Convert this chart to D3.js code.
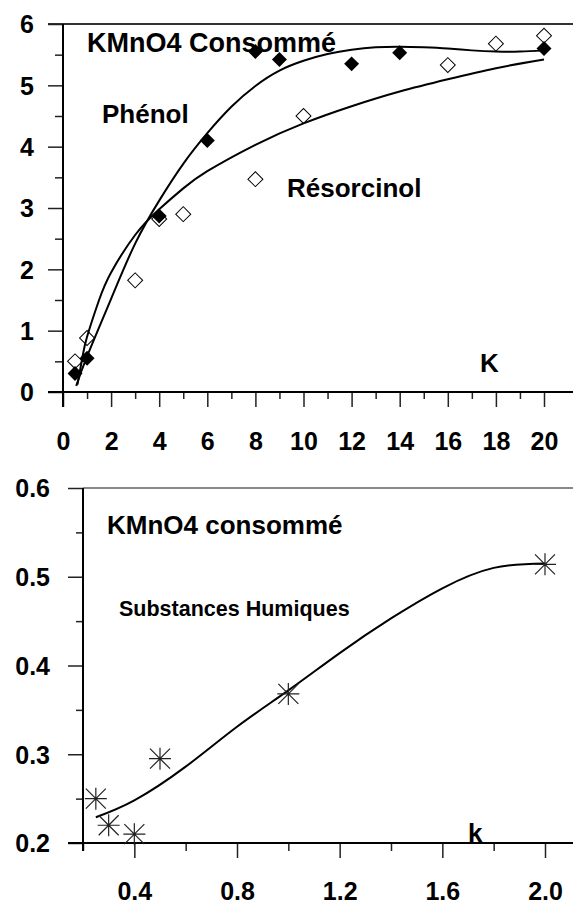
<!DOCTYPE html>
<html>
<head>
<meta charset="utf-8">
<script src="https://cdn.jsdelivr.net/npm/d3@7"></script>
<style>
  body { margin: 0; background: #fff; }
  svg { display: block; font-family: "Liberation Sans", Arial, sans-serif; font-weight: bold; }
</style>
</head>
<body>
<div id="chart"></div>
<script>
// top chart : KMnO4 consommé vs K
var phenolK = [0.5, 1, 4, 6, 8, 9, 12, 14, 20];
var phenolV = [0.3, 0.55, 2.87, 4.1, 5.55, 5.42, 5.35, 5.53, 5.6];
var resorK = [0.5, 1, 3, 4, 5, 8, 10, 16, 18, 20];
var resorV = [0.5, 0.88, 1.82, 2.82, 2.9, 3.47, 4.5, 5.33, 5.68, 5.81];
// trend curves
var phenolFitK = [0.55, 1, 2, 3, 4, 5, 6, 7, 8, 9, 10, 11, 12, 13, 14, 15, 16, 17, 18, 19, 20];
var phenolFitV = [0.1, 0.58, 1.52, 2.42, 3.12, 3.72, 4.22, 4.65, 4.99, 5.24, 5.4, 5.51, 5.58, 5.62, 5.63, 5.62, 5.6, 5.57, 5.55, 5.55, 5.57];
var resorFitK = [0.6, 0.8, 1, 1.5, 2, 3, 4, 5, 6, 8, 10, 12, 14, 16, 18, 20];
var resorFitV = [0.12, 0.55, 0.9, 1.5, 1.95, 2.56, 2.98, 3.32, 3.6, 4.03, 4.38, 4.66, 4.9, 5.1, 5.28, 5.42];
var topXTicks = d3.range(0, 21, 2);
var topYTicks = [0, 1, 2, 3, 4, 5, 6];

// bottom chart : substances humiques
var humK = [0.25, 0.3, 0.4, 0.5, 1.0, 2.0];
var humV = [0.25, 0.22, 0.21, 0.295, 0.368, 0.514];
var humFitK = [0.25, 0.4, 0.6, 0.8, 1.0, 1.2, 1.4, 1.6, 1.8, 2.0];
var humFitV = [0.229, 0.248, 0.286, 0.331, 0.372, 0.414, 0.453, 0.487, 0.51, 0.515];
var botXTicks = [0.4, 0.8, 1.2, 1.6, 2.0];
var botYTicks = [0.2, 0.3, 0.4, 0.5, 0.6];

var width = 573;
var height = 905;

var svg = d3.select('#chart')
            .append('svg')
            .attr('width', width)
            .attr('height', height);

// scales
var x1 = d3.scaleLinear().domain([0, 20]).range([63, 544]);
var y1 = d3.scaleLinear().domain([0, 6]).range([392, 24]);
var x2 = d3.scaleLinear().domain([0.2, 2.0]).range([83, 545]);
var y2 = d3.scaleLinear().domain([0.2, 0.6]).range([843, 488]);

function styleAxis (g) {
  g.select('.domain').remove();
  g.selectAll('line').attr('stroke', '#222').attr('stroke-width', 1.5);
  g.selectAll('text').attr('fill', '#000').style('font-size', '25px');
}

// ---- top chart ----
var topG = svg.append('g');

topG.append('line')
   .attr('x1', 48).attr('x2', width)
   .attr('y1', y1(6)).attr('y2', y1(6))
   .attr('stroke', '#333').attr('stroke-width', 2);

// minor ticks
topG.append('g')
   .attr('transform', 'translate(0,' + y1(0) + ')')
   .call(d3.axisBottom(x1).tickValues(d3.range(1, 21, 2)).tickSize(7).tickFormat(''))
   .call(styleAxis);
topG.append('g')
   .attr('transform', 'translate(' + x1(0) + ',0)')
   .call(d3.axisLeft(y1).tickValues(d3.range(0.5, 6, 1)).tickSize(8).tickFormat(''))
   .call(styleAxis);

// major ticks + labels
topG.append('g')
   .attr('transform', 'translate(0,' + y1(0) + ')')
   .call(d3.axisBottom(x1).tickValues(topXTicks).tickSize(15).tickFormat(d3.format('d')))
   .call(styleAxis)
   .selectAll('text').attr('y', 58).attr('dy', 0);
topG.append('g')
   .attr('transform', 'translate(' + x1(0) + ',0)')
   .call(d3.axisLeft(y1).tickValues(topYTicks).tickSize(15).tickPadding(14).tickFormat(d3.format('d')))
   .call(styleAxis)
   .selectAll('text').attr('dy', '0.35em');

// axis lines
topG.append('line')
   .attr('x1', 48).attr('x2', width)
   .attr('y1', y1(0)).attr('y2', y1(0))
   .attr('stroke', '#000').attr('stroke-width', 2);
topG.append('line')
   .attr('x1', x1(0)).attr('x2', x1(0))
   .attr('y1', y1(6)).attr('y2', y1(0) + 15)
   .attr('stroke', '#000').attr('stroke-width', 2);

var line1 = d3.line()
              .x(function (d) { return x1(d[0]); })
              .y(function (d) { return y1(d[1]); })
              .curve(d3.curveNatural);

// markers, open ones first
var diamond = d3.symbol().type(d3.symbolSquare).size(112);

topG.selectAll('.resor')
   .data(d3.zip(resorK, resorV))
   .enter()
   .append('path')
     .attr('class', 'resor')
     .attr('d', diamond)
     .attr('transform', function (d) {
       return 'translate(' + x1(d[0]) + ',' + y1(d[1]) + ') rotate(45)';
     })
     .attr('fill', '#fff')
     .attr('stroke', '#000')
     .attr('stroke-width', 1);

topG.selectAll('.phenol')
   .data(d3.zip(phenolK, phenolV))
   .enter()
   .append('path')
     .attr('class', 'phenol')
     .attr('d', diamond)
     .attr('transform', function (d) {
       return 'translate(' + x1(d[0]) + ',' + y1(d[1]) + ') rotate(45)';
     })
     .attr('fill', '#000');

topG.append('path')
   .datum(d3.zip(phenolFitK, phenolFitV))
   .attr('d', line1)
   .attr('fill', 'none')
   .attr('stroke', '#000')
   .attr('stroke-width', 2);

topG.append('path')
   .datum(d3.zip(resorFitK, resorFitV))
   .attr('d', line1)
   .attr('fill', 'none')
   .attr('stroke', '#000')
   .attr('stroke-width', 2);

// labels
topG.append('text').attr('x', 87).attr('y', 52).style('font-size', '27px').text('KMnO4 Consommé');
topG.append('text').attr('x', 102).attr('y', 123).style('font-size', '26px').text('Phénol');
topG.append('text').attr('x', 287).attr('y', 197).style('font-size', '26px').text('Résorcinol');
topG.append('text').attr('x', 480).attr('y', 372).style('font-size', '26px').text('K');

// ---- bottom chart ----
var botG = svg.append('g');

botG.append('line')
   .attr('x1', x2(0.2)).attr('x2', width)
   .attr('y1', y2(0.6)).attr('y2', y2(0.6))
   .attr('stroke', '#888').attr('stroke-width', 2);

botG.append('g')
   .attr('transform', 'translate(0,' + y2(0.2) + ')')
   .call(d3.axisBottom(x2).tickValues([0.2, 0.6, 1.0, 1.4, 1.8]).tickSize(8).tickFormat(''))
   .call(styleAxis);
botG.append('g')
   .attr('transform', 'translate(' + x2(0.2) + ',0)')
   .call(d3.axisLeft(y2).tickValues([0.25, 0.35, 0.45, 0.55]).tickSize(7).tickFormat(''))
   .call(styleAxis);

botG.append('g')
   .attr('transform', 'translate(0,' + y2(0.2) + ')')
   .call(d3.axisBottom(x2).tickValues(botXTicks).tickSize(15).tickFormat(d3.format('.1f')))
   .call(styleAxis)
   .selectAll('text').attr('y', 57).attr('dy', 0);
botG.append('g')
   .attr('transform', 'translate(' + x2(0.2) + ',0)')
   .call(d3.axisLeft(y2).tickValues(botYTicks).tickSize(15).tickPadding(18).tickFormat(d3.format('.1f')))
   .call(styleAxis)
   .selectAll('text').attr('dy', '0.35em');

botG.append('line')
   .attr('x1', 68).attr('x2', width)
   .attr('y1', y2(0.2)).attr('y2', y2(0.2))
   .attr('stroke', '#000').attr('stroke-width', 2);
botG.append('line')
   .attr('x1', x2(0.2)).attr('x2', x2(0.2))
   .attr('y1', y2(0.6)).attr('y2', y2(0.2) + 8)
   .attr('stroke', '#000').attr('stroke-width', 2);

var line2 = d3.line()
              .x(function (d) { return x2(d[0]); })
              .y(function (d) { return y2(d[1]); })
              .curve(d3.curveNatural);

botG.append('path')
   .datum(d3.zip(humFitK, humFitV))
   .attr('d', line2)
   .attr('fill', 'none')
   .attr('stroke', '#000')
   .attr('stroke-width', 2);

// asterisk markers
var star = 'M-11,0L11,0M0,-11L0,11M-10,-10L10,10M-10,10L10,-10';
botG.selectAll('.hum')
   .data(d3.zip(humK, humV))
   .enter()
   .append('path')
     .attr('class', 'hum')
     .attr('d', star)
     .attr('transform', function (d) {
       return 'translate(' + x2(d[0]) + ',' + y2(d[1]) + ')';
     })
     .attr('fill', 'none')
     .attr('stroke', '#222')
     .attr('stroke-width', 1.2);

botG.append('text').attr('x', 107).attr('y', 534).style('font-size', '26px').text('KMnO4 consommé');
botG.append('text').attr('x', 119).attr('y', 616).style('font-size', '21.5px').text('Substances Humiques');
botG.append('text').attr('x', 468).attr('y', 842).style('font-size', '26px').text('k');
</script>
</body>
</html>
